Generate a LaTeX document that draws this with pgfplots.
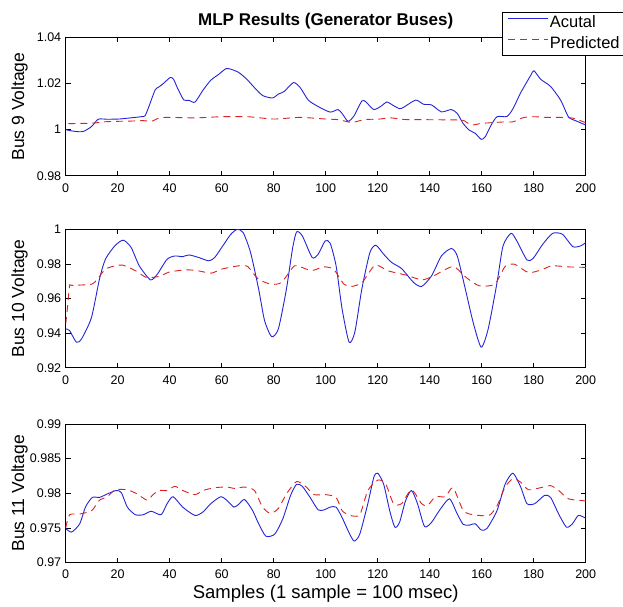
\documentclass[border=0pt]{standalone}
\usepackage{fontspec}
\setmainfont{Liberation Sans}
\usepackage{pgfplots}
\pgfplotsset{compat=1.18}

\definecolor{actblue}{RGB}{35,35,215}
\definecolor{predred}{RGB}{215,35,35}

\pgfplotsset{
  busaxis/.style={
    scale only axis,
    width=520pt, height=138.5pt,
    xmin=0, xmax=200,
    xtick={0,20,...,200},
    tick align=inside,
    major tick length=5pt,
    axis line style={line width=0.7pt},
    every tick/.style={black, line width=0.7pt},
    /pgf/number format/assume math mode=true,
    tick label style={font=\fontsize{12.5}{13}\selectfont},
    xticklabel style={anchor=center, yshift=-12pt},
    yticklabel style={anchor=east, xshift=-1pt},
    ylabel style={at={(axis description cs:-0.0885,0.5)}, anchor=center, font=\fontsize{17.5}{18}\selectfont},
  },
}

\begin{document}
\begin{tikzpicture}
\path[use as bounding box] (0pt,0pt) rectangle (623pt,-606pt);

% ---- Bus 9
\begin{axis}[busaxis,
  at={(65.7pt,-37.3pt)}, anchor=north west,
  ymin=0.98, ymax=1.04,
  ytick={0.98,1,1.02,1.04}, yticklabels={0.98,1,1.02,1.04},
  ylabel={Bus 9 Voltage},
  title={MLP Results (Generator Buses)},
  title style={at={(axis description cs:0.5,1)}, anchor=center, yshift=10.5pt, font=\fontsize{17}{18}\selectfont\bfseries},
  legend cell align=left,
  legend image code/.code={\draw[#1] (0pt,4.5pt) -- (40pt,4.5pt);},
  legend style={at={(0.8385,1.186)}, anchor=north west, draw=black, line width=0.7pt, fill=white,
    font=\fontsize{16.5}{16.5}\selectfont, inner xsep=5pt, inner ysep=0.7pt, row sep=0pt,
    nodes={inner xsep=2pt, inner ysep=3pt, text height=11.5pt, text depth=3.5pt}},
]
\addplot[draw=actblue, line width=0.9pt, smooth, tension=0.4] coordinates {
(0,1.0000)(2,0.9995)(5,0.9991)(7,0.9993)(10,1.0014)(12.5,1.0045)(16,1.0045)(20.6,1.0046)
(25,1.0051)(29,1.0056)(30.5,1.0060)(32,1.0100)(34.4,1.0172)(36,1.0186)(37.8,1.0202)
(40.2,1.0226)(41.5,1.0218)(43,1.0180)(45.4,1.0129)(47.4,1.0127)(49.7,1.0119)(52.8,1.0171)
(55.8,1.0214)(58.9,1.0240)(61.6,1.0264)(63.5,1.0262)(66.5,1.0248)(69.6,1.0219)(72.6,1.0182)
(75.7,1.0148)(79.5,1.0137)(81.8,1.0154)(84.1,1.0166)(87.6,1.0204)(90.2,1.0182)(93.3,1.0128)
(97.1,1.0100)(101.7,1.0076)(104.7,1.0087)(106.3,1.0070)(108.6,1.0036)(110.9,1.0060)
(113.9,1.0124)(115.4,1.0121)(118.5,1.0087)(121.6,1.0104)(123.5,1.0120)(126.1,1.0104)
(128.4,1.0091)(130,1.0097)(134.6,1.0128)(137.6,1.0110)(140.7,1.0107)(144.5,1.0077)
(148.3,1.0087)(150.6,1.0070)(152.9,1.0026)(155.2,0.9998)(157.5,0.9984)(159.8,0.9958)
(161.3,0.9968)(163.6,1.0019)(165.9,1.0056)(169.7,1.0057)(172,1.0090)(175,1.0160)
(178.9,1.0236)(180.1,1.0255)(182.7,1.0218)(186.5,1.0187)(190.4,1.0127)(193.4,1.0055)
(196.5,1.0037)(200,1.0020)};
\addlegendentry{Acutal}
\addplot[draw=predred, line width=0.9pt, dash pattern=on 7pt off 5pt, smooth, tension=0.4] coordinates {
(1,1.0026)(10,1.0028)(15,1.0034)(20,1.0036)(25,1.0037)(30,1.0039)(33,1.0036)(36,1.0051)
(40,1.0053)(50,1.0051)(60,1.0056)(70,1.0056)(80,1.0046)(90,1.0053)(100,1.0046)(105,1.0043)
(110,1.0031)(115,1.0044)(120,1.0045)(125,1.0051)(130,1.0044)(140,1.0043)(150,1.0042)
(153,1.0040)(156,1.0020)(160,1.0027)(168,1.0033)(172,1.0034)(176,1.0052)(180,1.0056)
(185,1.0053)(190,1.0053)(195,1.0050)(200,1.0030)};
\addlegendentry{Predicted}
\end{axis}

% ---- Bus 10
\begin{axis}[busaxis,
  at={(65.7pt,-229.3pt)}, anchor=north west,
  ymin=0.92, ymax=1,
  ytick={0.92,0.94,0.96,0.98,1}, yticklabels={0.92,0.94,0.96,0.98,1},
  ylabel={Bus 10 Voltage},
]
\addplot[draw=actblue, line width=0.9pt, smooth, tension=0.4] coordinates {
(0,0.9425)(1.5,0.9415)(4.1,0.9348)(6.1,0.9367)(9.9,0.9490)(13,0.9713)(15.3,0.9828)
(19.1,0.9908)(22.2,0.9937)(25.2,0.9894)(28.3,0.9789)(32.6,0.9708)(35.2,0.9740)(39,0.9827)
(42,0.9846)(45,0.9842)(47.4,0.9852)(51.2,0.9837)(55,0.9818)(57.3,0.9837)(60.4,0.9904)
(63.5,0.9971)(66,1.0000)(68.3,0.9980)(71.1,0.9866)(74.2,0.9655)(76.5,0.9472)(79.2,0.9380)
(81.8,0.9425)(84.9,0.9655)(87.2,0.9885)(88.8,0.9985)(91,0.9962)(94.8,0.9837)(97.1,0.9856)
(99.8,0.9933)(101.7,0.9920)(104,0.9789)(106.3,0.9540)(109,0.9348)(111.2,0.9406)
(113.9,0.9655)(117,0.9866)(119.3,0.9908)(122.3,0.9856)(125.4,0.9808)(129.2,0.9773)
(133.8,0.9693)(136.9,0.9670)(140.7,0.9731)(144.5,0.9846)(148.3,0.9889)(150.6,0.9846)
(153.7,0.9655)(156.7,0.9463)(159.8,0.9319)(162.5,0.9425)(165.9,0.9693)(168.2,0.9904)
(171.3,0.9977)(173.5,0.9933)(177.4,0.9823)(179.7,0.9831)(183.5,0.9914)(187.3,0.9977)
(191.1,0.9971)(195,0.9900)(198,0.9904)(200,0.9923)};
\addplot[draw=predred, line width=0.9pt, dash pattern=on 7pt off 5pt, smooth, tension=0.4] coordinates {
(0,0.9453)(0.7,0.9550)(1.5,0.9674)(2.3,0.9676)(10,0.9683)(12.2,0.9713)(15.3,0.9770)
(19,0.9789)(22,0.9793)(27,0.9760)(31,0.9722)(36,0.9728)(40,0.9754)(46.6,0.9766)(51,0.9760)
(56,0.9747)(60,0.9770)(66.5,0.9789)(70,0.9785)(74,0.9713)(79,0.9683)(83,0.9693)(88,0.9789)
(92.5,0.9770)(95.5,0.9764)(99,0.9783)(103,0.9770)(107,0.9683)(110,0.9670)(114,0.9693)
(119,0.9793)(124,0.9760)(131,0.9735)(137,0.9708)(141.5,0.9731)(149,0.9785)(154,0.9722)
(159,0.9674)(165,0.9683)(169,0.9785)(172.7,0.9798)(178,0.9750)(183,0.9766)(187,0.9789)
(193.4,0.9783)(200,0.9780)};
\end{axis}

% ---- Bus 11
\begin{axis}[busaxis,
  at={(65.7pt,-424pt)}, anchor=north west,
  ymin=0.97, ymax=0.99,
  ytick={0.97,0.975,0.98,0.985,0.99}, yticklabels={0.97,0.975,0.98,0.985,0.99},
  ylabel={Bus 11 Voltage},
  xlabel={Samples (1 sample = 100 msec)},
  xlabel style={at={(axis description cs:0.5,-0.224)}, anchor=center, font=\fontsize{18.5}{19}\selectfont},
]
\addplot[draw=actblue, line width=0.9pt, smooth, tension=0.4] coordinates {
(0,0.9749)(2.3,0.9744)(5.4,0.9756)(7.6,0.9780)(10.2,0.9794)(13,0.9794)(16,0.9799)
(19.4,0.9804)(21.4,0.9801)(23.7,0.9780)(26.8,0.9769)(29.8,0.9769)(32.9,0.9774)(36.7,0.9769)
(39,0.9785)(41.3,0.9795)(45,0.9780)(49.7,0.9768)(52.8,0.9773)(55.8,0.9785)(59.6,0.9795)
(61.9,0.9790)(64.7,0.9780)(66.5,0.9784)(68.8,0.9791)(71.9,0.9775)(74.2,0.9756)(77,0.9738)
(80.4,0.9741)(83.5,0.9763)(86.5,0.9797)(88.8,0.9813)(91,0.9810)(94,0.9794)(97.1,0.9776)
(99.4,0.9776)(101.7,0.9780)(104,0.9780)(106.3,0.9765)(108.6,0.9746)(110.9,0.9731)
(113.1,0.9741)(116.2,0.9785)(118.5,0.9823)(120,0.9829)(122.3,0.9813)(124.6,0.9775)
(126.6,0.9751)(128.4,0.9758)(130.7,0.9789)(133,0.9804)(135.3,0.9785)(138,0.9752)
(140.7,0.9758)(143.7,0.9775)(147.6,0.9792)(150.6,0.9770)(152.9,0.9755)(155.2,0.9754)
(157.5,0.9756)(159.8,0.9747)(162,0.9749)(165.9,0.9775)(169,0.9813)(172,0.9829)(175,0.9809)
(177.4,0.9785)(180.4,0.9785)(184.2,0.9797)(186.5,0.9794)(189.6,0.9770)(192.6,0.9751)
(194.9,0.9756)(197.2,0.9768)(200,0.9764)};
\addplot[draw=predred, line width=0.9pt, dash pattern=on 7pt off 5pt, smooth, tension=0.4] coordinates {
(0,0.9750)(1.5,0.9769)(5.4,0.9770)(10,0.9775)(13,0.9790)(16,0.9795)(19,0.9805)(23.7,0.9805)
(27.5,0.9799)(31.3,0.9790)(33.6,0.9798)(35.9,0.9804)(39,0.9804)(42,0.9810)(45,0.9804)
(49.7,0.9798)(52.8,0.9804)(57.3,0.9808)(61.9,0.9809)(65,0.9807)(68.8,0.9809)(72.6,0.9804)
(75.7,0.9780)(78.7,0.9771)(81.8,0.9778)(84.9,0.9799)(88.8,0.9817)(92.5,0.9809)(95.5,0.9798)
(100,0.9798)(104,0.9794)(106.3,0.9775)(109.3,0.9768)(113.1,0.9769)(116.2,0.9804)(120,0.9819)
(123,0.9814)(126.1,0.9785)(129.2,0.9785)(133,0.9805)(136.9,0.9785)(139.1,0.9782)(142.2,0.9795)
(146,0.9795)(149,0.9808)(152.9,0.9775)(156.7,0.9769)(162.8,0.9768)(165.9,0.9782)(169,0.9809)
(172,0.9821)(175,0.9816)(178,0.9805)(182.6,0.9808)(186.5,0.9811)(189.6,0.9804)(193.4,0.9792)
(200,0.9789)};
\end{axis}
\end{tikzpicture}
\end{document}
